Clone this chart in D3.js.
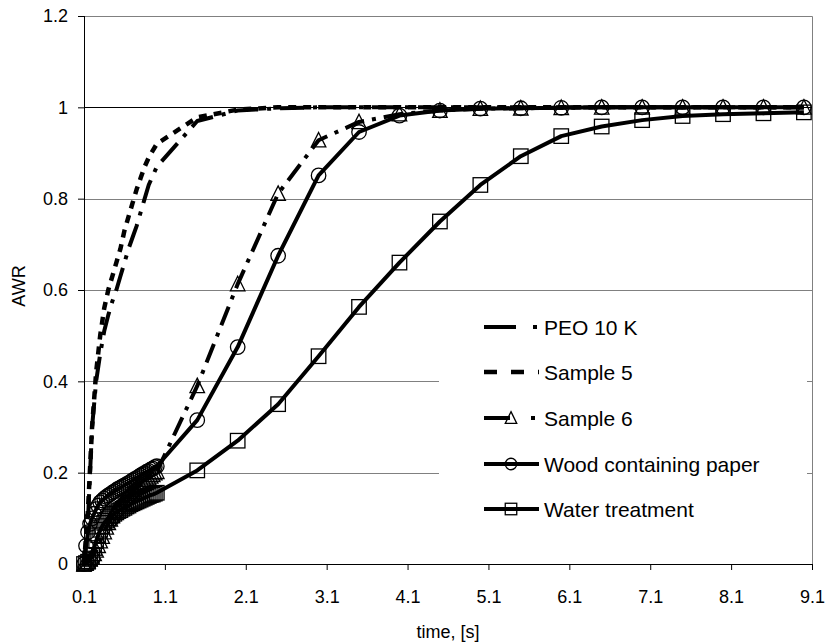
<!DOCTYPE html>
<html><head><meta charset="utf-8">
<script src="https://cdn.jsdelivr.net/npm/d3@7/dist/d3.min.js"></script>
<style>body{margin:0;background:#fff}svg{display:block}</style>
</head><body><svg id="c" width="826" height="644"></svg>
<script>
// ---- data ----
// PEO 10 K and Sample 5 (no markers)
const fastTimes = [0.1,0.15,0.2,0.25,0.3,0.35,0.4,0.45,0.5,0.55,0.6,0.65,0.7,0.75,0.8,0.85,0.9,0.95,1.0,
  1.5,2.0,2.5,3.0,3.5,4.0,4.5,5.0,5.5,6.0,6.5,7.0,7.5,8.0,8.5,9.0];
const peo10k = [0,0.1,0.3,0.4,0.46,0.51,0.545,0.575,0.6,0.63,0.66,0.69,0.715,0.74,0.77,0.8,0.83,0.85,0.87,
  0.97,0.993,0.998,1,1,1,1,1,1,1,1,1,1,1,1,1];
const sample5 = [0,0.12,0.3,0.42,0.5,0.56,0.6,0.63,0.66,0.69,0.73,0.76,0.79,0.82,0.845,0.87,0.89,0.905,0.92,
  0.978,0.995,1,1,1,1,1,1,1,1,1,1,1,1,1,1];

// marker series
const markTimes = [0.1,0.125,0.15,0.175,0.2,0.225,0.25,0.275,0.3,0.325,0.35,0.375,0.4,0.425,0.45,0.475,0.5,0.525,0.55,
  0.575,0.6,0.625,0.65,0.675,0.7,0.725,0.75,0.775,0.8,0.825,0.85,0.875,0.9,0.925,0.95,0.975,1.0,
  1.5,2.0,2.5,3.0,3.5,4.0,4.5,5.0,5.5,6.0,6.5,7.0,7.5,8.0,8.5,9.0];
const sample6 = [0,0.002,0.005,0.01,0.015,0.022,0.03,0.04,0.05,0.06,0.07,0.08,0.09,0.098,0.105,0.113,0.12,0.125,0.13,
  0.135,0.14,0.145,0.15,0.154,0.158,0.162,0.166,0.17,0.174,0.178,0.181,0.185,0.188,0.192,0.195,0.199,0.202,
  0.39,0.613,0.811,0.928,0.968,0.985,0.993,0.997,0.998,0.999,1,1,1,1,1,1];
const woodPaper = [0,0.04,0.07,0.088,0.1,0.11,0.12,0.128,0.135,0.139,0.143,0.147,0.15,0.153,0.156,0.159,0.162,0.165,0.167,
  0.17,0.172,0.175,0.177,0.18,0.183,0.186,0.188,0.191,0.194,0.197,0.199,0.202,0.204,0.207,0.209,0.212,0.214,
  0.315,0.475,0.675,0.851,0.946,0.982,0.993,0.997,0.998,0.999,1,1,1,1,1,1];
const waterTreat = [0,0.002,0.005,0.012,0.02,0.035,0.05,0.063,0.075,0.083,0.09,0.095,0.1,0.104,0.107,0.11,0.113,0.116,0.118,
  0.121,0.123,0.126,0.128,0.131,0.133,0.135,0.137,0.139,0.141,0.143,0.145,0.147,0.149,0.151,0.152,0.154,0.156,
  0.205,0.27,0.35,0.455,0.563,0.66,0.75,0.83,0.893,0.937,0.958,0.972,0.981,0.985,0.987,0.989];

const seriesNames = ["PEO 10 K","Sample 5","Sample 6","Wood containing paper","Water treatment"];
const xTicks = [0.1,1.1,2.1,3.1,4.1,5.1,6.1,7.1,8.1,9.1];
const xTickLabels = ["0.1","1.1","2.1","3.1","4.1","5.1","6.1","7.1","8.1","9.1"];
const yTicks = [0,0.2,0.4,0.6,0.8,1.0,1.2];
const yTickLabels = ["0","0.2","0.4","0.6","0.8","1","1.2"];
const xTitle = "time, [s]";
const yTitle = "AWR";

// ---- chart ----
const svg = d3.select("#c");
const FONT = "Liberation Sans, Arial, sans-serif";
const L = 84, R = 812, T = 16, B = 564;
const x = d3.scaleLinear().domain([0.1, 9.1]).range([L, R]);
const y = d3.scaleLinear().domain([0, 1.2]).range([B, T]);

// plot border (top/right grey)
svg.append("path").attr("d", `M${L},${T + 0.5}H${R + 0.5}V${B}`).attr("fill","none").attr("stroke","#808080").attr("stroke-width",1);

// gridlines
svg.append("g").selectAll("line").data(yTicks.filter(v => v > 0 && v < 1.2)).join("line")
  .attr("x1", L).attr("x2", R).attr("y1", d => Math.round(y(d)) + 0.5).attr("y2", d => Math.round(y(d)) + 0.5)
  .attr("stroke", d => d === 1.0 ? "#000" : "#808080").attr("stroke-width", 1);

// legend background
const lg = {x: 439, y: 300, w: 368, h: 252};
svg.append("rect").attr("x", lg.x).attr("y", lg.y).attr("width", lg.w).attr("height", lg.h).attr("fill", "#fff");

const styles = [
  {dash: "24,9,4,9", ldash: "32,17,4,20", width: 4, marker: null},
  {dash: "8,7", ldash: "13,14", width: 4.5, marker: null},
  {dash: "20,8,4,8", ldash: "26,21,4,20", width: 4, marker: "tri"},
  {dash: null, ldash: null, width: 4, marker: "circ"},
  {dash: null, ldash: null, width: 4, marker: "sq"}
];
const seriesData = [
  {t: fastTimes, v: peo10k},
  {t: fastTimes, v: sample5},
  {t: markTimes, v: sample6},
  {t: markTimes, v: woodPaper},
  {t: markTimes, v: waterTreat}
];

function drawMarker(g, type, cx, cy, s) {
  if (type === "tri") {
    const h = s * 0.93;
    g.append("path").attr("d", `M${cx},${cy - h/2 - 1}L${cx + s/2},${cy + h/2}L${cx - s/2},${cy + h/2}Z`)
      .attr("fill","none").attr("stroke","#000").attr("stroke-width",1.3);
  } else if (type === "circ") {
    g.append("circle").attr("cx", cx).attr("cy", cy).attr("r", s/2)
      .attr("fill","none").attr("stroke","#000").attr("stroke-width",1.3);
  } else if (type === "sq") {
    g.append("rect").attr("x", cx - s/2).attr("y", cy - s/2).attr("width", s).attr("height", s)
      .attr("fill","none").attr("stroke","#000").attr("stroke-width",1.3);
  }
}

const line = d3.line().x(d => x(d[0])).y(d => y(d[1]));
seriesData.forEach((sd, i) => {
  const st = styles[i];
  const pts = sd.t.map((t, k) => [t, sd.v[k]]);
  const g = svg.append("g");
  g.append("path").attr("d", line(pts)).attr("fill","none").attr("stroke","#000")
    .attr("stroke-width", st.width).attr("stroke-dasharray", st.dash).attr("stroke-linejoin","round");
  if (st.marker) pts.forEach(p => drawMarker(g, st.marker, x(p[0]), y(p[1]), 14.5));
});

// axes
const yAxis = d3.axisLeft(y).tickValues(yTicks).tickSize(6).tickPadding(10)
  .tickFormat((d, i) => yTickLabels[i]);
const gy = svg.append("g").attr("transform", `translate(${L},0)`).call(yAxis);
const xAxis = d3.axisBottom(x).tickValues(xTicks).tickSize(6).tickPadding(20)
  .tickFormat((d, i) => xTickLabels[i]);
const gx = svg.append("g").attr("transform", `translate(0,${B})`).call(xAxis);
[gx, gy].forEach(g => {
  g.selectAll(".tick line").attr("stroke","#000");
  g.selectAll(".tick text").attr("font-family", FONT).attr("font-size", 18).attr("fill","#000");
  g.select(".domain").remove();
});
svg.append("line").attr("x1", L + 0.5).attr("x2", L + 0.5).attr("y1", T).attr("y2", B).attr("stroke","#000");
svg.append("line").attr("x1", L).attr("x2", R + 1).attr("y1", B + 0.5).attr("y2", B + 0.5).attr("stroke","#000");

// titles
svg.append("text").attr("x", (L + R) / 2).attr("y", 638).attr("text-anchor","middle")
  .attr("font-family", FONT).attr("font-size", 18).text(xTitle);
svg.append("text").attr("transform", `translate(25,${(T + B) / 2 - 4}) rotate(-90)`).attr("text-anchor","middle")
  .attr("font-family", FONT).attr("font-size", 18).text(yTitle);

// legend
const rowY = [327, 372, 418, 464, 509];
const lx0 = 484, lx1 = 539, mx = 511, tx = 544;
seriesNames.forEach((name, i) => {
  const st = styles[i];
  const g = svg.append("g");
  const yy = rowY[i];
  g.append("line").attr("x1", lx0).attr("x2", lx1).attr("y1", yy).attr("y2", yy)
    .attr("stroke","#000").attr("stroke-width", st.width).attr("stroke-dasharray", st.ldash);
  if (st.marker) drawMarker(g, st.marker, mx, yy, 11.5);
  g.append("text").attr("x", tx).attr("y", yy).attr("dy","0.36em")
    .attr("font-family", FONT).attr("font-size", 21).text(name);
});
</script></body></html>
